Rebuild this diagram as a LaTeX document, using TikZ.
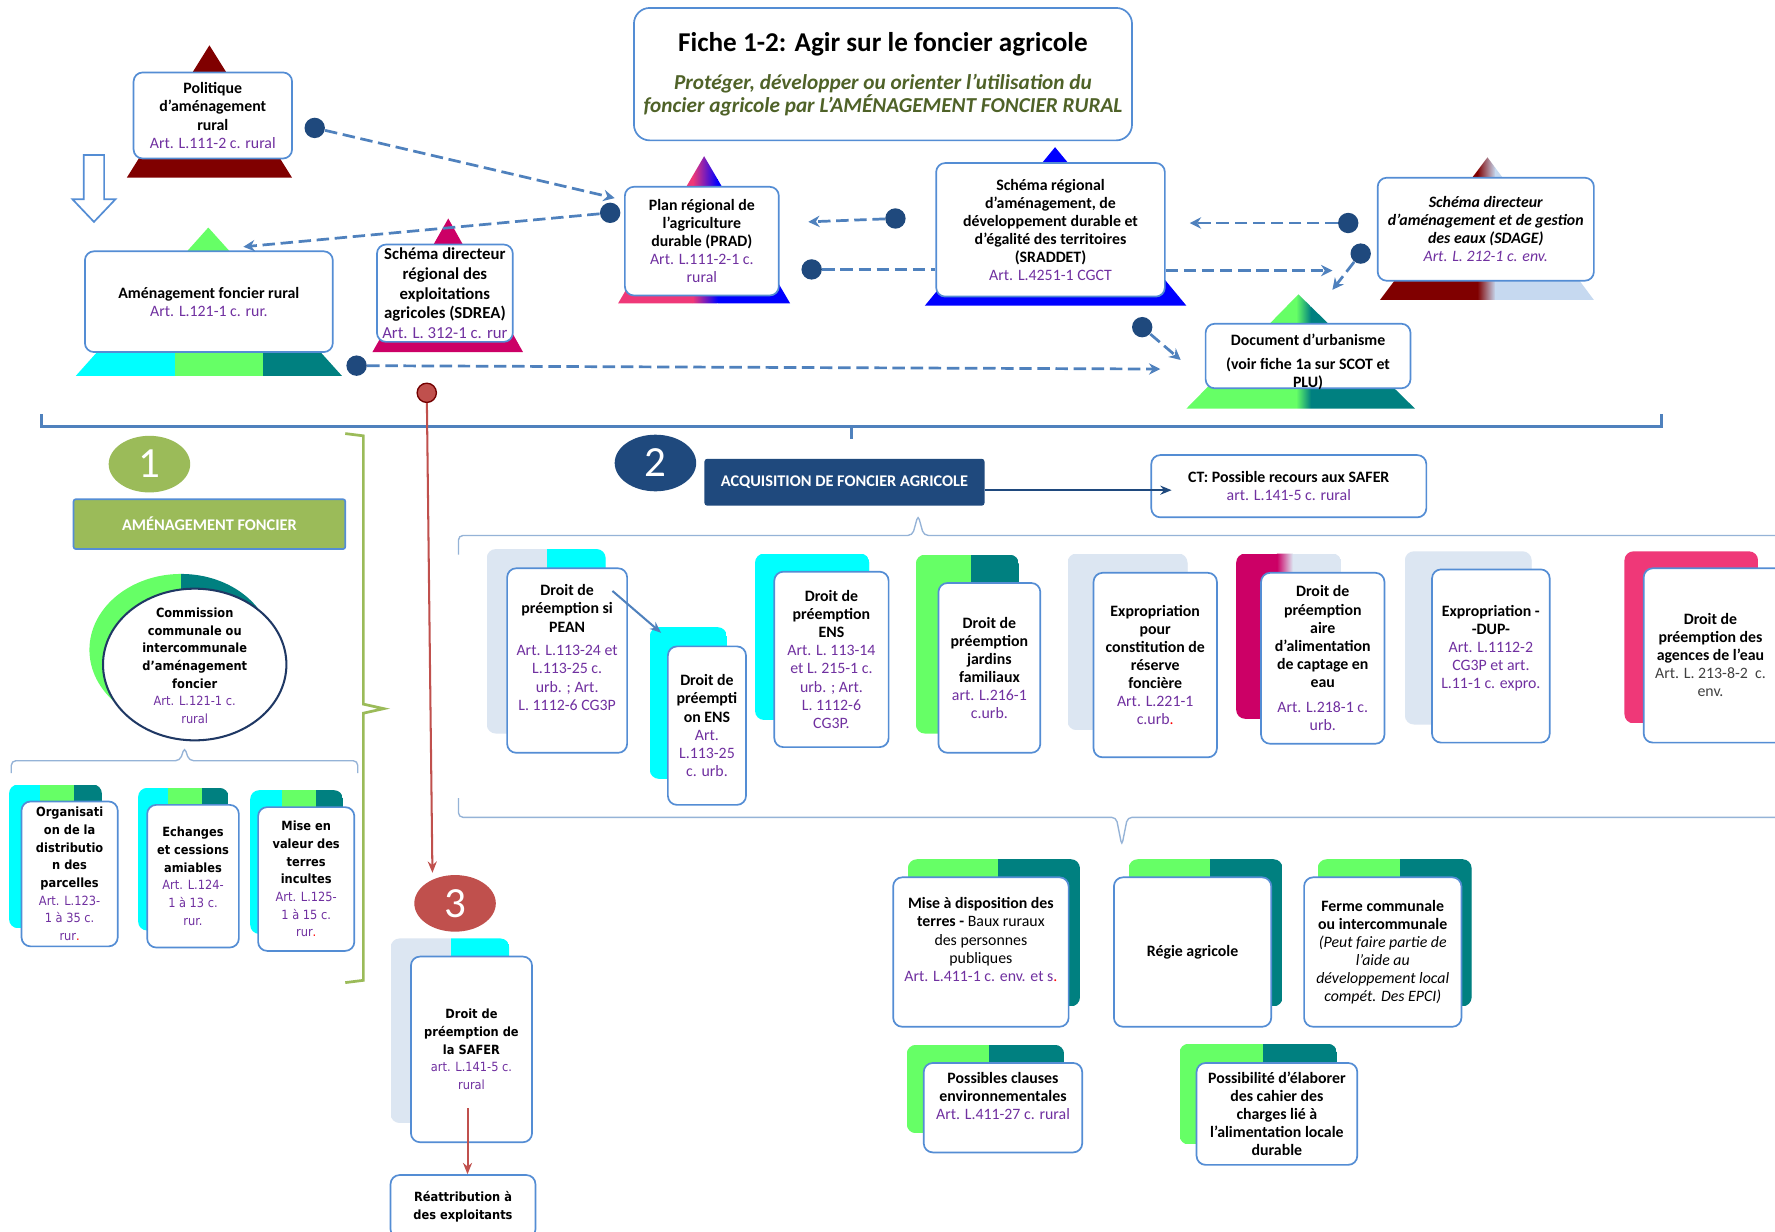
\documentclass[tikz,border=0pt]{standalone}
\usepackage{fontspec}
\setmainfont{Carlito}
\newfontfamily\verdfont{DejaVu Sans Condensed}
\usepackage{tikz}
\usetikzlibrary{arrows.meta, positioning, shapes.geometric, calc}

\definecolor{bdr}{RGB}{84,141,212}
\definecolor{artpurple}{RGB}{112,48,160}
\definecolor{olivetxt}{RGB}{79,98,40}
\definecolor{navy}{RGB}{31,73,125}
\definecolor{ellnavy}{RGB}{31,56,100}
\definecolor{dashblue}{RGB}{79,129,189}
\definecolor{darkred}{RGB}{128,0,0}
\definecolor{magentac}{RGB}{204,0,102}
\definecolor{pinkc}{RGB}{239,56,120}
\definecolor{bluec}{RGB}{0,0,255}
\definecolor{greenc}{RGB}{102,255,102}
\definecolor{tealc}{RGB}{0,128,128}
\definecolor{cyanc}{RGB}{0,255,255}
\definecolor{paleblue}{RGB}{220,230,242}
\definecolor{sdageblue}{RGB}{198,217,240}
\definecolor{olivefill}{RGB}{155,187,89}
\definecolor{redc}{RGB}{192,80,77}
\definecolor{bracegray}{RGB}{149,179,215}
\definecolor{grytxt}{RGB}{64,64,64}

\newcommand{\boxfont}{\fontsize{7}{8}\selectfont}
\newcommand{\vfont}{\verdfont\bfseries\fontsize{5.6}{7.8}\selectfont}
\newcommand{\artref}[1]{\textcolor{artpurple}{#1}}
\newcommand{\redpt}{\textcolor{red}{.}}
% coloured card behind a box: x1 y1 x2 y2, two splits, three colours
\newcommand{\backbox}[9]{%
  \begin{scope}
    \clip[rounded corners=4pt] (#1,#2) rectangle (#3,#4);
    \fill[#7] (#1,#2) rectangle (#5,#4);
    \fill[#8] (#5,#2) rectangle (#6,#4);
    \fill[#9] (#6,#2) rectangle (#3,#4);
  \end{scope}}

\begin{document}
\begin{tikzpicture}[x=0.5pt, y=-0.5pt,
    rbox/.style={draw=bdr, fill=white, rounded corners=4pt, line width=0.75pt, align=center, inner sep=1pt, font=\boxfont},
    vrbox/.style={rbox, font=\vfont},
    txt/.style={align=center, inner sep=0pt, font=\boxfont},
    bluedot/.style={circle, fill=navy, minimum size=9pt, inner sep=0pt},
    numell/.style={ellipse, minimum width=36pt, minimum height=25pt, inner sep=0pt, text=white, font=\fontsize{19}{19}\selectfont},
    dashline/.style={dashblue, line width=1.2pt, dash pattern=on 5.5pt off 2.5pt},
    dasharrow/.style={dashline, -{Stealth[length=5pt, width=5pt]}}
  ]
  \useasboundingbox (0,0) rectangle (1568,1088);
  \fill[white] (0,0) rectangle (1568,1088);

  % Triangles of the top part
  \fill[darkred] (185,40) -- (258,157) -- (112,157) -- cycle;
  \begin{scope}
    \clip (184,201) -- (302,332) -- (67,332) -- cycle;
    \fill[cyanc] (60,190) rectangle (155,340);
    \fill[greenc] (155,190) rectangle (232,340);
    \fill[tealc] (232,190) rectangle (310,340);
  \end{scope}
  \fill[magentac] (396,193) -- (462,311) -- (329,311) -- cycle;
  \begin{scope}
    \clip (622,138) -- (698,268) -- (546,268) -- cycle;
    \fill[pinkc] (540,130) rectangle (612,275);
    \shade[left color=pinkc, right color=bluec] (612,130) rectangle (634,275);
    \fill[bluec] (634,130) rectangle (705,275);
  \end{scope}
  \fill[bluec] (932,130) -- (1048,270) -- (817,270) -- cycle;
  \begin{scope}
    \clip (1314,139) -- (1408,265) -- (1219,265) -- cycle;
    \fill[darkred] (1210,130) rectangle (1305,270);
    \shade[left color=darkred, right color=sdageblue] (1305,130) rectangle (1321,270);
    \fill[sdageblue] (1321,130) rectangle (1415,270);
  \end{scope}
  \begin{scope}
    \clip (1147,260) -- (1250,361) -- (1048,361) -- cycle;
    \fill[greenc] (1040,250) rectangle (1145,365);
    \shade[left color=greenc, right color=tealc] (1145,250) rectangle (1158,365);
    \fill[tealc] (1158,250) rectangle (1255,365);
  \end{scope}

  % Top boxes
  \node[rbox, rounded corners=7pt, minimum width=220pt, minimum height=58.5pt, inner sep=0pt, font=\fontsize{9.4}{10}\selectfont\bfseries\itshape] (title) at (780,65.5)
    {{\fontsize{12}{13}\selectfont\upshape Fiche 1-2: Agir sur le foncier agricole}\\[7pt]
     {\color{olivetxt}Protéger, développer ou orienter l’utilisation du}\\
     {\color{olivetxt}foncier agricole par L’AMÉNAGEMENT FONCIER RURAL}};
  \node[rbox, minimum width=70pt, minimum height=38pt] (politique) at (188,102)
    {\textbf{Politique}\\\textbf{d’aménagement}\\\textbf{rural}\\\artref{Art. L.111-2 c. rural}};
  \node[rbox, minimum width=109.5pt, minimum height=44.5pt] (amrural) at (184.5,266.5)
    {\textbf{Aménagement foncier rural}\\\artref{Art. L.121-1 c. rur.}};
  \node[rbox, minimum width=60pt, minimum height=43pt, inner sep=0pt, font=\fontsize{7.4}{8.8}\selectfont] (sdrea) at (393,259)
    {\textbf{Schéma directeur}\\\textbf{régional des}\\\textbf{exploitations}\\\textbf{agricoles (SDREA)}\\\artref{Art. L. 312-1 c. rur}};
  \node[rbox, minimum width=68pt, minimum height=48pt] (prad) at (620,213)
    {\textbf{Plan régional de}\\\textbf{l’agriculture}\\\textbf{durable (PRAD)}\\\artref{Art. L.111-2-1 c.}\\\artref{rural}};
  \node[rbox, minimum width=101pt, minimum height=59pt] (sraddet) at (928,203)
    {\textbf{Schéma régional}\\\textbf{d’aménagement, de}\\\textbf{développement durable et}\\\textbf{d’égalité des territoires}\\\textbf{(SRADDET)}\\\artref{Art. L.4251-1 CGCT}};
  \node[rbox, minimum width=95.5pt, minimum height=45.5pt, font=\boxfont\itshape] (sdage) at (1312.5,202.5)
    {\textbf{Schéma directeur}\\\textbf{d’aménagement et de gestion}\\\textbf{des eaux (SDAGE)}\\\artref{Art. L. 212-1 c. env.}};
  \node[rbox, minimum width=90.5pt, minimum height=28.5pt] (urba) at (1155.5,314.5) {};
  \node[txt, font=\boxfont\bfseries] (urba_t) at (1155.5,320)
    {Document d’urbanisme\\[2.5pt](voir fiche 1a sur SCOT et\\PLU)};

  % Dots and dashed arrows of the top part
  \node[bluedot] (d_pol) at (278,113) {};
  \node[bluedot] (d_prad) at (539,188) {};
  \node[bluedot] (d_srad1) at (791,193) {};
  \node[bluedot] (d_srad2) at (717,238) {};
  \node[bluedot] (d_sdage1) at (1191,197) {};
  \node[bluedot] (d_sdage2) at (1202,224) {};
  \node[bluedot] (d_srad3) at (1009,289) {};
  \node[bluedot] (d_amr) at (315,323) {};
  \coordinate (p_prad) at (543,175);
  \coordinate (p_amr) at (215,218);
  \coordinate (p_prad2) at (714,196);
  \coordinate (p_srad) at (1051,197);
  \coordinate (p_east) at (1177,239);
  \coordinate (p_urba1) at (1177,256);
  \coordinate (p_urba2) at (1043,318);
  \coordinate (p_urba3) at (1025,326);
  \draw[dasharrow] (d_pol) -- (p_prad);
  \draw[dasharrow] (d_prad) -- (p_amr);
  \draw[dasharrow] (d_srad1) -- (p_prad2);
  \draw[dashline] (d_srad2) -- (d_srad2 -| sraddet.west);
  \draw[dasharrow] (d_sdage1) -- (p_srad);
  \draw[dasharrow] (sraddet.east |- p_east) -- (p_east);
  \draw[dasharrow] (d_sdage2) -- (p_urba1);
  \draw[dasharrow] (d_srad3) -- (p_urba2);
  \draw[dasharrow] (d_amr) -- (p_urba3);

  % Hollow arrow
  \draw[bdr, fill=white, line width=0.75pt] (74,137) -- (92,137) -- (92,176) -- (102,176) -- (83,196) -- (64,176) -- (74,176) -- cycle;

  % Main bracket
  \draw[dashblue, line width=1.4pt] (37,366) -- (37,377) -- (1468,377) -- (1468,366);
  \draw[dashblue, line width=1.4pt] (752,377) -- (752,388);

  % Section 1
  \node[numell, fill=olivefill] (one) at (132,410) {1};
  \node[rbox, fill=olivefill, rounded corners=1pt, minimum width=120pt, minimum height=22pt, text=white, font=\fontsize{7.2}{8}\selectfont\bfseries] (amfon) at (185,463) {AMÉNAGEMENT FONCIER};
  \begin{scope}
    \clip (160,574) ellipse [x radius=81, y radius=67];
    \fill[greenc] (70,500) rectangle (160,650);
    \fill[tealc] (160,500) rectangle (250,650);
  \end{scope}
  \draw[ellnavy, line width=0.9pt, fill=white] (172,587) ellipse [x radius=81, y radius=67];
  \node[txt, font=\vfont] (commission) at (172,588)
    {Commission\\communale ou\\intercommunale\\d’aménagement\\foncier\\{\mdseries\artref{Art. L.121-1 c.}}\\{\mdseries\artref{rural}}};
  \draw[bracegray, line width=0.6pt, rounded corners=2pt] (10,683) -- (10,672) -- (159,672) -- (163,660) -- (167,672) -- (316,672) -- (316,683);

  \backbox{8}{693}{90}{820}{35}{65}{cyanc}{greenc}{tealc}
  \node[vrbox, minimum width=42.5pt, minimum height=64pt] (parcelles) at (61.5,772)
    {Organisati\\on de la\\distributio\\n des\\parcelles\\{\mdseries\artref{Art. L.123-}}\\{\mdseries\artref{1 à 35 c.}}\\{\mdseries\artref{rur}\redpt}};
  \backbox{122}{696}{202}{822}{148}{178}{cyanc}{greenc}{tealc}
  \node[vrbox, minimum width=40.5pt, minimum height=63pt] (echanges) at (170.5,774)
    {Echanges\\et cessions\\amiables\\{\mdseries\artref{Art. L.124-}}\\{\mdseries\artref{1 à 13 c.}}\\{\mdseries\artref{rur.}}};
  \backbox{221}{698}{303}{825}{249}{279}{cyanc}{greenc}{tealc}
  \node[vrbox, minimum width=42.5pt, minimum height=63.5pt] (incultes) at (270.5,776.5)
    {Mise en\\valeur des\\terres\\incultes\\{\mdseries\artref{Art. L.125-}}\\{\mdseries\artref{1 à 15 c.}}\\{\mdseries\artref{rur}\redpt}};
  \draw[olivefill, line width=1.2pt] (305,383) -- (321,385) -- (321,622) -- (339,626) -- (321,630) -- (321,866) -- (305,868);

  % Section 3
  \node[circle, fill=redc, draw=red!45!black, line width=0.6pt, minimum size=8.5pt, inner sep=0pt] (d_safer) at (377,347) {};
  \coordinate (p_three) at (382,771);
  \draw[redc, line width=0.9pt, -{Stealth[length=5pt, width=4pt]}] (d_safer) -- (p_three);
  \node[numell, fill=redc] (three) at (402,798) {3};
  \backbox{345}{829}{450}{992}{398}{450}{paleblue}{cyanc}{cyanc}
  \node[vrbox, minimum width=53.5pt, minimum height=82pt] (safer) at (416.5,927)
    {Droit de\\préemption de\\la SAFER\\{\mdseries\artref{art. L.141-5 c.}}\\{\mdseries\artref{rural}}};
  \node[vrbox, minimum width=64pt, minimum height=28pt] (rea) at (409,1066) {Réattribution à\\des exploitants};
  \coordinate (s_safer) at (413,979);
  \draw[redc, line width=0.9pt, -{Stealth[length=5pt, width=4pt]}] (s_safer) -- (s_safer |- rea.north);

  % Section 2
  \node[numell, fill=navy] (two) at (579,409) {2};
  \node[rbox, fill=navy, draw=navy, rounded corners=1pt, minimum width=123pt, minimum height=20pt, text=white, font=\fontsize{7.2}{8}\selectfont\bfseries] (acq) at (746,426) {ACQUISITION DE FONCIER AGRICOLE};
  \node[rbox, minimum width=121.5pt, minimum height=27.5pt] (ct) at (1138.5,429.5)
    {\textbf{CT: Possible recours aux SAFER}\\\artref{art. L.141-5 c. rural}};
  \coordinate (p_ct) at (1035,433);
  \draw[navy, line width=0.9pt, -{Stealth[length=5pt, width=4pt]}] (acq.east |- p_ct) -- (p_ct);
  \draw[bracegray, line width=0.6pt, rounded corners=2pt] (405,490) -- (405,473) -- (806,473) -- (811,455) -- (816,473) -- (1575,473);
  \draw[bracegray, line width=0.6pt, rounded corners=2pt] (405,705) -- (405,722) -- (986,722) -- (991,747) -- (996,722) -- (1575,722);

  \backbox{430}{485}{535}{648}{483}{535}{paleblue}{cyanc}{cyanc}
  \node[rbox, minimum width=53pt, minimum height=81.5pt] (pean) at (501,583.5) {};
  \node[txt] (pean_t) at (501,572)
    {\textbf{Droit de}\\\textbf{préemption si}\\\textbf{PEAN}\\[2.5pt]\artref{Art. L.113-24 et}\\\artref{L.113-25 c.}\\\artref{urb. ; Art.}\\\artref{L. 1112-6 CG3P}};
  \backbox{574}{554}{642}{688}{642}{642}{cyanc}{cyanc}{cyanc}
  \node[rbox, minimum width=34.5pt, minimum height=70pt] (ens_a) at (624.5,641)
    {\textbf{Droit de}\\\textbf{préempti}\\\textbf{on ENS}\\\artref{Art.}\\\artref{L.113-25}\\\artref{c. urb.}};
  \coordinate (q_pean) at (541,522);
  \coordinate (p_ens) at (584,559);
  \draw[dashblue, line width=0.9pt, -{Stealth[length=5pt, width=4pt]}] (q_pean) -- (p_ens);
  \backbox{667}{489}{768}{636}{768}{768}{cyanc}{cyanc}{cyanc}
  \node[rbox, minimum width=50.5pt, minimum height=77.5pt] (ens_b) at (734.5,582.5)
    {\textbf{Droit de}\\\textbf{préemption}\\\textbf{ENS}\\\artref{Art. L. 113-14}\\\artref{et L. 215-1 c.}\\\artref{urb. ; Art.}\\\artref{L. 1112-6}\\\artref{CG3P.}};
  \backbox{809}{490}{900}{648}{858}{900}{greenc}{tealc}{tealc}
  \node[rbox, minimum width=45pt, minimum height=75pt] (jardins) at (874,590)
    {\textbf{Droit de}\\\textbf{préemption}\\\textbf{jardins}\\\textbf{familiaux}\\\artref{art. L.216-1}\\\artref{c.urb.}};
  \backbox{943}{489}{1049}{645}{1049}{1049}{paleblue}{paleblue}{paleblue}
  \node[rbox, minimum width=54.5pt, minimum height=81.5pt] (reserve) at (1020.5,587.5)
    {\textbf{Expropriation}\\\textbf{pour}\\\textbf{constitution de}\\\textbf{réserve}\\\textbf{foncière}\\\artref{Art. L.221-1}\\\artref{c.urb}\redpt};
  \begin{scope}
    \clip[rounded corners=4pt] (1092,489) rectangle (1185,635);
    \fill[magentac] (1092,489) rectangle (1128,635);
    \shade[left color=magentac, right color=paleblue] (1128,489) rectangle (1142,635);
    \fill[paleblue] (1142,489) rectangle (1185,635);
  \end{scope}
  \node[rbox, minimum width=54.5pt, minimum height=75.5pt] (aire) at (1168.5,581.5)
    {\textbf{Droit de}\\\textbf{préemption}\\\textbf{aire}\\\textbf{d’alimentation}\\\textbf{de captage en}\\\textbf{eau}\\[3pt]\artref{Art. L.218-1 c.}\\\artref{urb.}};
  \backbox{1241}{487}{1353}{640}{1353}{1353}{paleblue}{paleblue}{paleblue}
  \node[rbox, minimum width=52pt, minimum height=76.5pt] (dup) at (1317,579.5) {};
  \node[txt] (dup_t) at (1317,572.5)
    {\textbf{Expropriation -}\\\textbf{-DUP-}\\\artref{Art. L.1112-2}\\\artref{CG3P et art.}\\\artref{L.11-1 c. expro.}};
  \backbox{1435}{487}{1553}{639}{1553}{1553}{pinkc}{pinkc}{pinkc}
  \node[rbox, minimum width=64pt, minimum height=77pt] (agences) at (1516,579) {};
  \node[txt] (agences_t) at (1511,578.5)
    {\textbf{Droit de}\\\textbf{préemption des}\\\textbf{agences de l’eau}\\\textcolor{grytxt}{Art. L. 213-8-2~~c.}\\\textcolor{grytxt}{env.}};

  % Bottom group of section 2
  \backbox{802}{759}{954}{889}{882}{954}{greenc}{tealc}{tealc}
  \node[rbox, minimum width=77.5pt, minimum height=66pt] (baux) at (866.5,841) {};
  \node[txt] (baux_t) at (866.5,830)
    {\textbf{Mise à disposition des}\\\textbf{terres -} Baux ruraux\\des personnes\\publiques\\\artref{Art. L.411-1 c. env. et s}\redpt};
  \backbox{997}{759}{1133}{889}{1069}{1133}{greenc}{tealc}{tealc}
  \node[rbox, minimum width=69.5pt, minimum height=66pt] (regie) at (1053.5,841) {\textbf{Régie agricole}};
  \backbox{1164}{759}{1300}{889}{1237}{1300}{greenc}{tealc}{tealc}
  \node[rbox, minimum width=69.5pt, minimum height=66pt] (ferme) at (1221.5,841)
    {\textbf{Ferme communale}\\\textbf{ou intercommunale}\\\textit{(Peut faire partie de}\\\textit{l’aide au}\\\textit{développement local}\\\textit{compét. Des EPCI)}};
  \backbox{801}{923}{940}{1001}{874}{940}{greenc}{tealc}{tealc}
  \node[rbox, minimum width=70pt, minimum height=39.5pt] (clauses) at (886,978.5) {};
  \node[txt] (clauses_t) at (886,968)
    {\textbf{Possibles clauses}\\\textbf{environnementales}\\\artref{Art. L.411-27 c. rural}};
  \backbox{1042}{922}{1181}{1011}{1116}{1181}{greenc}{tealc}{tealc}
  \node[rbox, minimum width=71pt, minimum height=45pt] (cahier) at (1128,984)
    {\textbf{Possibilité d’élaborer}\\\textbf{des cahier des}\\\textbf{charges lié à}\\\textbf{l’alimentation locale}\\\textbf{durable}};
\end{tikzpicture}
\end{document}
